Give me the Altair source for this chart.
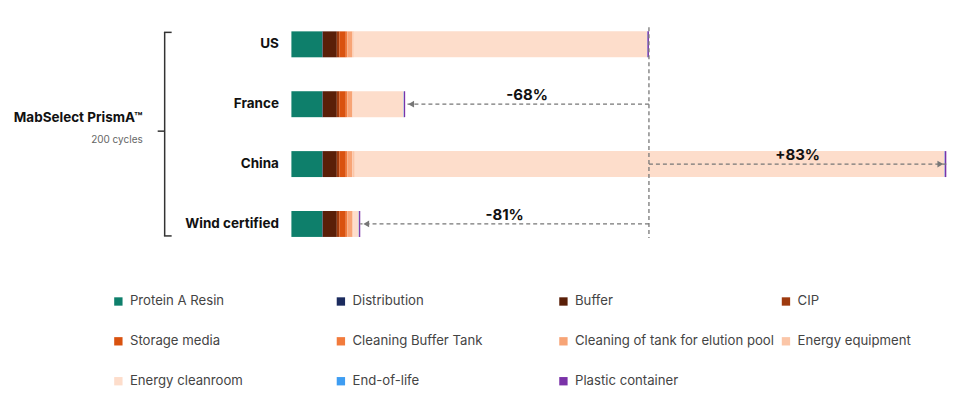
import altair as alt
import pandas as pd

rows = ["US", "France", "China", "Wind certified"]
components = ["Protein A Resin", "Distribution", "Buffer", "CIP", "Storage media",
              "Cleaning Buffer Tank", "Cleaning of tank for elution pool",
              "Energy equipment", "Energy cleanroom", "End-of-life", "Plastic container"]
colors = ["#0E7F6B", "#1B2B5E", "#5A1F08", "#9E3A0E", "#D9520F",
          "#F27B3C", "#F7A476", "#FBC6A8", "#FDDDCB", "#3E9DF2", "#7A32A8"]

vals_us = [31, 0.5, 14, 2.5, 6.5, 1.5, 5, 1.5, 294, 0.3, 1.5]
vals_france = [31, 0.5, 14, 2.5, 6.5, 1.5, 5, 0.5, 51, 0.3, 1.2]
vals_china = [31, 0.5, 14, 2.5, 6.5, 1.5, 5, 2.5, 591, 0.3, 1.5]
vals_wind = [31, 0.5, 14, 2.5, 6.5, 1.5, 5, 0.8, 5.7, 0.3, 1.2]

pct_rows = ["France", "China", "Wind certified"]
pct_labels = ["-68%", "+83%", "-81%"]

group_label = "MabSelect PrismA™"
group_sub = "200 cycles"

series = {"US": vals_us, "France": vals_france, "China": vals_china, "Wind certified": vals_wind}
recs = []
for r in rows:
    for i, (c, v) in enumerate(zip(components, series[r])):
        recs.append({"row": r, "component": c, "value": v, "order": i})
df = pd.DataFrame(recs)

totals = {r: sum(series[r]) for r in rows}
base = totals["US"]
arr = pd.DataFrame({
    "row": pct_rows,
    "label": pct_labels,
    "start": [base] * len(pct_rows),
    "end": [totals[r] for r in pct_rows],
})
arr["mid"] = (arr["start"] + arr["end"]) / 2
arr["dir"] = ["left" if e < base else "right" for e in arr["end"]]

FONT = "Inter"
xscale = alt.Scale(domain=[0, 665], nice=False, zero=True)
yenc = alt.Y("row:N", sort=rows, scale=alt.Scale(paddingInner=0.0, paddingOuter=0.0),
             axis=alt.Axis(title=None, domain=False, ticks=False, labelPadding=13,
                           labelFontSize=13.5, labelFontWeight="bold", labelColor="#111",
                           labelFont=FONT))

bars = alt.Chart(df).mark_bar(size=26).encode(
    x=alt.X("value:Q", stack="zero", scale=xscale, axis=None),
    y=yenc,
    color=alt.Color("component:N", sort=components,
                    scale=alt.Scale(domain=components, range=colors),
                    legend=alt.Legend(title=None, orient="none", legendX=-180, legendY=281,
                                      direction="horizontal",
                                      columns=4, gridAlign="all", columnPadding=5,
                                      rowPadding=26, symbolType="square", symbolSize=70,
                                      symbolStrokeWidth=0, labelFontSize=13.2,
                                      labelColor="#444", labelFont=FONT, labelOffset=5,
                                      labelLimit=260)),
    order=alt.Order("order:Q"),
)

vline = alt.Chart(pd.DataFrame({"x": [base]})).mark_rule(
    color="#777", strokeDash=[4, 3], strokeWidth=1.3
).encode(x=alt.X("x:Q", scale=xscale), y=alt.value(13), y2=alt.value(224))

arrows = alt.Chart(arr).mark_rule(color="#777", strokeDash=[4, 3], strokeWidth=1.3).encode(
    x=alt.X("start:Q", scale=xscale), x2="end:Q", y=alt.Y("row:N", sort=rows))

heads_l = alt.Chart(arr).transform_filter(alt.datum.dir == "left").mark_point(
    shape="triangle-left", filled=True, color="#777", size=45, opacity=1, xOffset=6
).encode(x=alt.X("end:Q", scale=xscale), y=alt.Y("row:N", sort=rows))

heads_r = alt.Chart(arr).transform_filter(alt.datum.dir == "right").mark_point(
    shape="triangle-right", filled=True, color="#777", size=45, opacity=1, xOffset=-6
).encode(x=alt.X("end:Q", scale=xscale), y=alt.Y("row:N", sort=rows))

pct = alt.Chart(arr).mark_text(fontSize=15, fontWeight="bold", color="#111", font=FONT,
                               baseline="middle", yOffset=-9).encode(
    x=alt.X("mid:Q", scale=xscale), y=alt.Y("row:N", sort=rows), text="label:N")

bk = "#333"
br_v = alt.Chart(pd.DataFrame({"a": [0]})).mark_rule(color=bk, strokeWidth=1.5).encode(
    x=alt.value(-127), y=alt.value(18), y2=alt.value(222))
br_t = alt.Chart(pd.DataFrame({"a": [0]})).mark_rule(color=bk, strokeWidth=1.5).encode(
    x=alt.value(-127.75), x2=alt.value(-120), y=alt.value(18))
br_b = alt.Chart(pd.DataFrame({"a": [0]})).mark_rule(color=bk, strokeWidth=1.5).encode(
    x=alt.value(-127.75), x2=alt.value(-120), y=alt.value(222))
br_m = alt.Chart(pd.DataFrame({"a": [0]})).mark_rule(color=bk, strokeWidth=1.5).encode(
    x=alt.value(-134), x2=alt.value(-127), y=alt.value(117))

t1 = alt.Chart(pd.DataFrame({"t": [group_label]})).mark_text(
    fontSize=13.5, fontWeight="bold", color="#111", font=FONT, align="right", baseline="middle"
).encode(x=alt.value(-149), y=alt.value(104), text="t:N")
t2 = alt.Chart(pd.DataFrame({"t": [group_sub]})).mark_text(
    fontSize=10, color="#666", font=FONT, align="right", baseline="middle"
).encode(x=alt.value(-149), y=alt.value(126), text="t:N")

chart = alt.layer(bars, vline, arrows, heads_l, heads_r, pct,
                  br_v, br_t, br_b, br_m, t1, t2).properties(
    width=665, height=240,
    autosize=alt.AutoSizeParams(type="none"),
    padding={"left": 284, "top": 6, "right": 0, "bottom": 142},
).configure(background="white", view=alt.ViewConfig(stroke="transparent", strokeWidth=0))

chart.save("out.html", embed_options={"renderer": "svg", "actions": False})
